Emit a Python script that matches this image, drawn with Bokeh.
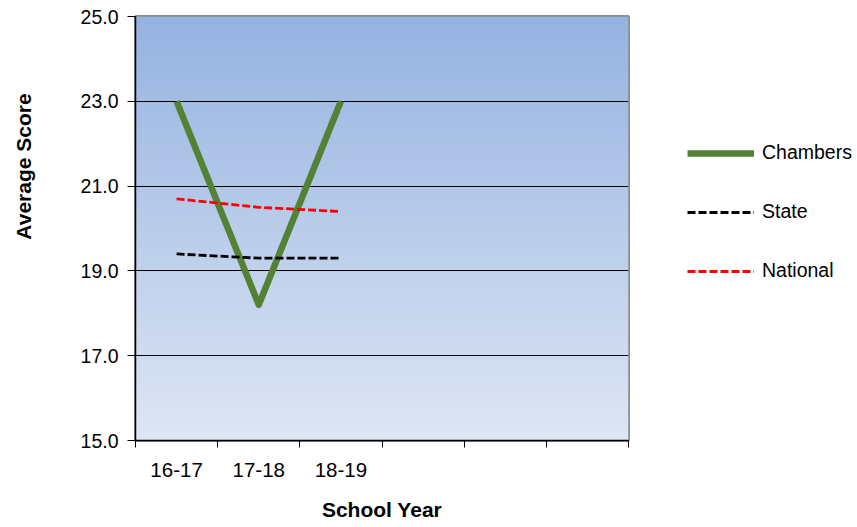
import numpy as np
from bokeh.plotting import figure
from bokeh.layouts import row
from bokeh.models import FixedTicker, Legend, LegendItem, Range1d, PrintfTickFormatter, Label
from bokeh.embed import file_html
from bokeh.resources import INLINE

# ---- data ----
years = ["16-17", "17-18", "18-19"]
chambers = [23.0, 18.2, 23.0]
state = [19.4, 19.3, 19.3]
national = [20.7, 20.5, 20.4]
series_names = ["Chambers", "State", "National"]
n_slots = 6
y_ticks = [15, 17, 19, 21, 23, 25]
y_min, y_max = 15, 25

FONT = "Liberation Sans"
xs = [i + 0.5 for i in range(len(years))]

STYLES = [dict(line_color="#538234", line_width=6.5, line_join="round"),
          dict(line_color="black", line_width=2.8, line_dash="8 3"),
          dict(line_color="#ff0000", line_width=2.8, line_dash="8 3")]

LEFT_W = 46

# ---- left strip with the y axis title ----
t_fig = figure(width=LEFT_W, height=527, output_backend="svg", toolbar_location=None,
               x_axis_type=None, y_axis_type=None, min_border=0,
               x_range=Range1d(0, 1), y_range=Range1d(0, 1))
t_fig.outline_line_color = None
t_fig.grid.visible = False
t_fig.add_layout(Label(x=23, y=274, x_units="screen", y_units="screen", text="Average Score",
                       angle=np.pi / 2, text_align="center", text_baseline="middle",
                       text_font=FONT, text_font_style="bold", text_font_size="21px",
                       text_color="black"))

# ---- main plot ----
p = figure(width=632 - LEFT_W, height=527, output_backend="svg", toolbar_location=None,
           x_range=Range1d(0, n_slots), y_range=Range1d(y_min, y_max),
           min_border_left=135 - LEFT_W, min_border_right=4, min_border_top=16,
           min_border_bottom=87, border_fill_color="white")

# gradient background of plot area
N = 256
t = np.linspace(0, 1, N)[:, None]  # 0 bottom -> 1 top
bot = np.array([222, 230, 244])
top = np.array([149, 179, 225])
rgb = (bot + (top - bot) * t).astype(np.uint32)
img = np.zeros((N, 1), dtype=np.uint32)
view = img.view(dtype=np.uint8).reshape((N, 1, 4))
view[:, :, 0] = rgb[:, 0:1]
view[:, :, 1] = rgb[:, 1:2]
view[:, :, 2] = rgb[:, 2:3]
view[:, :, 3] = 255
p.image_rgba(image=[img], x=0, y=y_min, dw=n_slots, dh=y_max - y_min, level="image")

p.outline_line_color = "#8c8c8c"
p.outline_line_width = 3

# grid
p.xgrid.visible = False
p.ygrid.ticker = FixedTicker(ticks=y_ticks[1:-1])
p.ygrid.grid_line_color = "black"
p.ygrid.grid_line_width = 1
p.ygrid.level = "underlay"

# y axis
p.yaxis.ticker = FixedTicker(ticks=y_ticks)
p.yaxis.formatter = PrintfTickFormatter(format="%.1f")
p.yaxis.major_tick_out = 8
p.yaxis.major_tick_in = 0
p.yaxis.minor_tick_line_color = None
p.yaxis.major_label_standoff = 9
p.yaxis.axis_line_color = "black"
p.yaxis.axis_line_width = 1.5
p.yaxis.major_label_text_font = FONT
p.yaxis.major_label_text_font_size = "19.5px"
p.yaxis.major_label_text_color = "black"

# x axis: labels at slot centers, ticks at slot boundaries
p.xaxis.ticker = FixedTicker(ticks=xs, minor_ticks=list(range(n_slots + 1)))
p.xaxis.major_label_overrides = {x: y for x, y in zip(xs, years)}
p.xaxis.major_tick_line_color = None
p.xaxis.major_tick_out = 0
p.xaxis.major_tick_in = 0
p.xaxis.minor_tick_line_color = "black"
p.xaxis.minor_tick_out = 7
p.xaxis.minor_tick_in = 0
p.xaxis.major_label_standoff = 15
p.xaxis.axis_line_color = "black"
p.xaxis.axis_line_width = 1.5
p.xaxis.major_label_text_font = FONT
p.xaxis.major_label_text_font_size = "20.5px"
p.xaxis.major_label_text_color = "black"
p.xaxis.axis_label = "School Year"
p.xaxis.axis_label_standoff = 18
p.xaxis.axis_label_text_font = FONT
p.xaxis.axis_label_text_font_style = "bold"
p.xaxis.axis_label_text_font_size = "21px"
p.xaxis.axis_label_text_color = "black"

# lines
for vals, st in zip([chambers, state, national], STYLES):
    p.line(xs, vals, **st)

# ---- legend strip to the right ----
q = figure(width=225, height=527, output_backend="svg", toolbar_location=None,
           x_axis_type=None, y_axis_type=None, min_border=0,
           x_range=Range1d(0, 1), y_range=Range1d(-2, -1), border_fill_color="white")
q.outline_line_color = None
q.grid.visible = False
items = []
for name, vals, st in zip(series_names, [chambers, state, national], STYLES):
    r = q.line(xs, vals, **st)  # out of view; only used for the legend swatch
    items.append(LegendItem(label=name, renderers=[r]))
legend = Legend(items=items, location=(55, 158), orientation="vertical",
                glyph_width=67, glyph_height=20, spacing=36, padding=0, margin=0,
                label_standoff=8, border_line_color=None, background_fill_alpha=0,
                label_text_font=FONT, label_text_font_size="19.5px",
                label_text_color="black", label_height=20)
q.add_layout(legend)

layout = row(t_fig, p, q, spacing=0)
open("out.html", "w").write(file_html(layout, INLINE))
